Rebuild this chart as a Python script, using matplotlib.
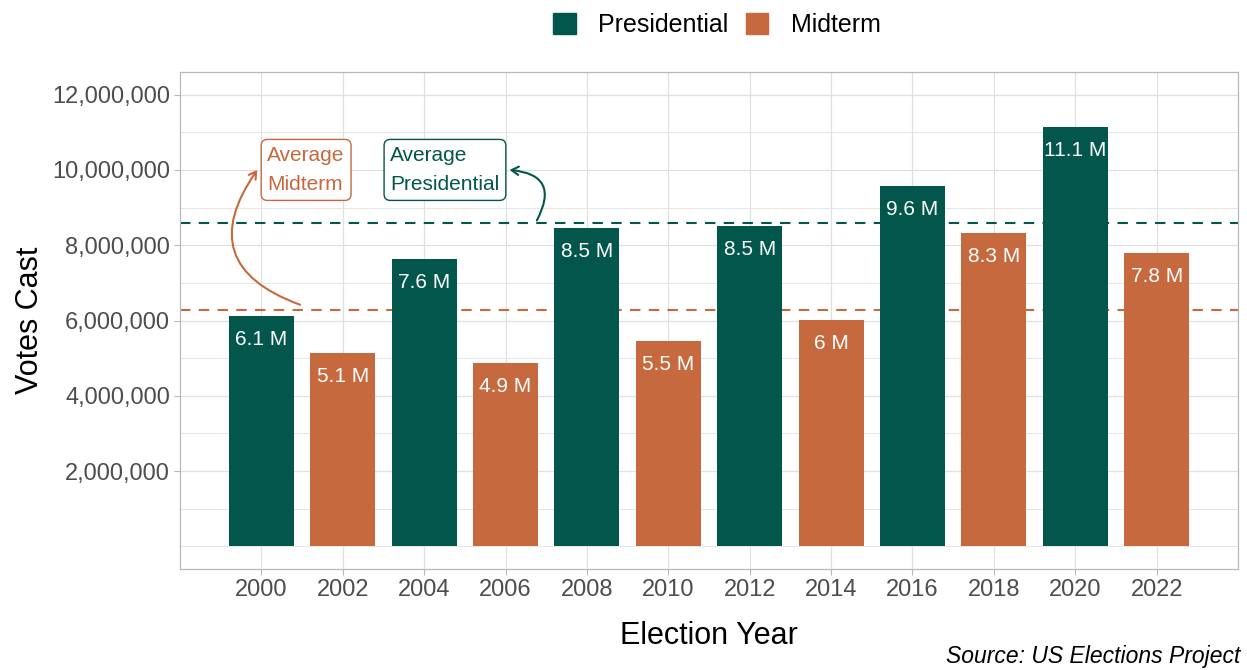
import numpy as np
import matplotlib.pyplot as plt
from matplotlib.patches import Patch
from matplotlib.ticker import FixedLocator, FuncFormatter

plt.rcParams['font.family'] = ['Liberation Sans', 'DejaVu Sans']

TEAL = '#03564B'
ORANGE = '#C6693F'
GRID = '#E0E0E0'
BORDER = '#B8B8B8'

years = [2000, 2002, 2004, 2006, 2008, 2010, 2012, 2014, 2016, 2018, 2020, 2022]
election_type = ['Presidential', 'Midterm'] * 6
votes = [6.13e6, 5.13e6, 7.64e6, 4.88e6, 8.46e6, 5.46e6,
         8.52e6, 6.02e6, 9.58e6, 8.33e6, 11.14e6, 7.80e6]
y_ticks = [2e6, 4e6, 6e6, 8e6, 10e6, 12e6]

colors = {'Presidential': TEAL, 'Midterm': ORANGE}

votes = np.array(votes)
types = np.array(election_type)
avg_pres = votes[types == 'Presidential'].mean()
avg_mid = votes[types == 'Midterm'].mean()

fig = plt.figure(figsize=(12.47, 6.70), dpi=100)
ax = fig.add_axes([0.1443, 0.1507, 0.8485, 0.7418])

# bars
ax.bar(years, votes, width=1.6, color=[colors[t] for t in election_type], zorder=3)

# average lines (behind bars)
ax.axhline(avg_pres, color=TEAL, lw=1.5, ls=(0, (5, 4)), zorder=2)
ax.axhline(avg_mid, color=ORANGE, lw=1.5, ls=(0, (5, 4)), zorder=2)

# value labels
for x, v in zip(years, votes):
    lab = f"{round(v / 1e6, 1):g} M"
    ax.annotate(lab, (x, v), xytext=(0, -17), textcoords='offset points',
                ha='center', va='center', color='white', fontsize=15, zorder=4)

# annotation boxes
box_style = 'round,pad=0.3,rounding_size=0.3'
ax.text(2000.15, 10.0e6, 'Average\nMidterm', color=ORANGE, fontsize=15,
        ha='left', va='center', multialignment='left', linespacing=1.7, zorder=5,
        bbox=dict(boxstyle=box_style, fc='white', ec=ORANGE, lw=1))
ax.text(2003.17, 10.0e6, 'Average\nPresidential', color=TEAL, fontsize=15,
        ha='left', va='center', multialignment='left', linespacing=1.7, zorder=5,
        bbox=dict(boxstyle=box_style, fc='white', ec=TEAL, lw=1))

arrow = '->,head_length=0.5,head_width=0.3'
ax.annotate('', xy=(1999.9, 10.0e6), xytext=(2000.95, avg_mid + 0.15e6),
            arrowprops=dict(arrowstyle=arrow, color=ORANGE, lw=1.5,
                            connectionstyle='arc3,rad=-0.65', shrinkA=0, shrinkB=0),
            zorder=5)
ax.annotate('', xy=(2006.1, 10.0e6), xytext=(2006.77, avg_pres + 0.08e6),
            arrowprops=dict(arrowstyle=arrow, color=TEAL, lw=1.5,
                            connectionstyle='arc3,rad=0.75', shrinkA=0, shrinkB=0),
            zorder=5)

# axes styling
ax.set_xlim(1998, 2024)
ax.set_ylim(-0.6e6, 12.6e6)
ax.set_xticks(years)
ax.set_xticklabels([str(y) for y in years])
ax.yaxis.set_major_locator(FixedLocator(y_ticks))
ax.yaxis.set_minor_locator(FixedLocator([0, 1e6, 3e6, 5e6, 7e6, 9e6, 11e6]))
ax.yaxis.set_major_formatter(FuncFormatter(lambda v, p: f"{int(v):,}"))
ax.tick_params(axis='both', which='major', labelsize=17, labelcolor='#4D4D4D',
               color=BORDER, length=4, width=0.8, pad=3)
ax.tick_params(axis='y', which='minor', length=0)
ax.grid(True, which='major', color=GRID, lw=0.9, zorder=0)
ax.grid(True, which='minor', axis='y', color=GRID, lw=0.6, zorder=0)
ax.set_axisbelow(True)
for s in ax.spines.values():
    s.set_color(BORDER)
    s.set_linewidth(0.9)

ax.set_ylabel('Votes Cast', fontsize=22, va='center')
ax.yaxis.set_label_coords(-0.1418, 0.5)
ax.set_xlabel('Election Year', fontsize=22, va='center')
ax.xaxis.set_label_coords(0.5, -0.1348)

handles = [Patch(color=TEAL, label='Presidential'), Patch(color=ORANGE, label='Midterm')]
fig.legend(handles=handles, loc='center', bbox_to_anchor=(0.575, 1 - 25 / 670), ncol=2,
           frameon=False, fontsize=18, handlelength=0.9, handleheight=0.9,
           handletextpad=0.9, columnspacing=0.7)

fig.text(1240 / 1247, 1 - 656 / 670, 'Source: US Elections Project', ha='right', va='center',
         fontsize=16.5, style='italic')

fig.savefig('out.png', dpi=100)
